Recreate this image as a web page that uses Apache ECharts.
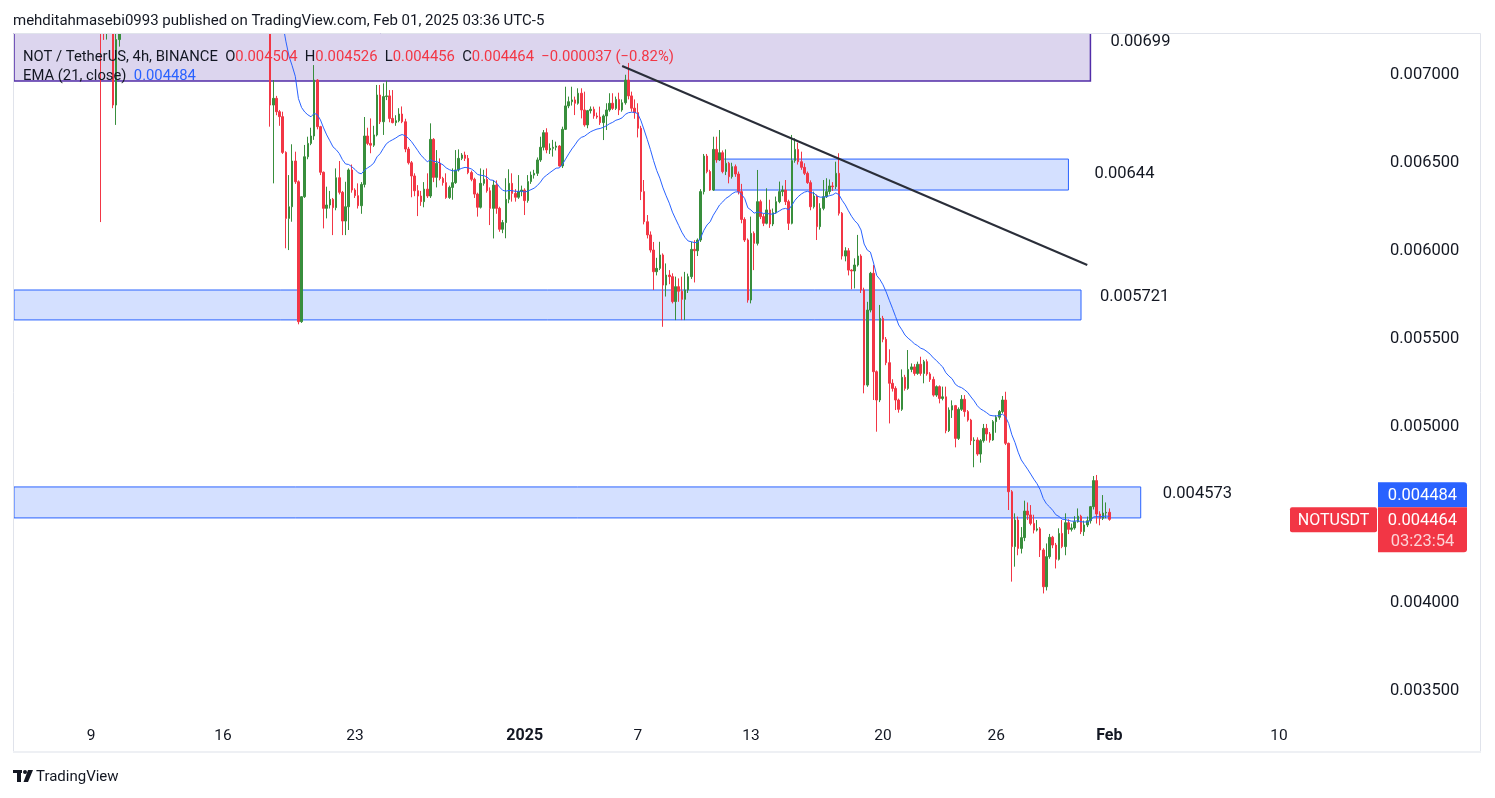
<!DOCTYPE html>
<html><head><meta charset="utf-8">
<script src="https://cdn.jsdelivr.net/npm/echarts@6/dist/echarts.min.js"></script>
<style>html,body{margin:0;padding:0;background:#fff}#c{width:1495px;height:798px}</style>
</head><body><div id="c"></div>
<script>
// ---- DATA (NOT/USDT 4h, BINANCE) ----
const openP = [
0.008900,0.008980,0.009020,0.009080,0.008990,0.008900,0.008950,0.009060,0.009200,0.009150,
0.009000,0.009050,0.009100,0.009250,0.009200,0.009050,0.009100,0.009020,0.008900,0.008950,
0.008880,0.008750,0.008800,0.008720,0.008600,0.008350,0.008200,0.007800,0.007450,0.007350,
0.007400,0.007300,0.006818,0.007190,0.007350,0.007500,0.007450,0.007650,0.007750,0.007700,
0.007780,0.007900,0.007850,0.007750,0.007820,0.007950,0.008050,0.008000,0.007900,0.007950,
0.008080,0.008150,0.008100,0.008000,0.007880,0.007800,0.007850,0.007900,0.007850,0.007750,
0.007800,0.007850,0.007900,0.007780,0.007700,0.007750,0.007800,0.007720,0.007650,0.007700,
0.007620,0.007550,0.007600,0.007650,0.007580,0.007500,0.007550,0.007600,0.007520,0.007450,
0.007500,0.007380,0.006818,0.006856,0.006780,0.006752,0.006549,0.006174,0.006240,0.006500,
0.006382,0.005587,0.006297,0.006524,0.006600,0.006642,0.006960,0.006695,0.006436,0.006231,
0.006250,0.006282,0.006235,0.006405,0.006322,0.006159,0.006240,0.006449,0.006335,0.006303,
0.006246,0.006367,0.006642,0.006600,0.006590,0.006648,0.006875,0.006723,0.006866,0.006870,
0.006742,0.006718,0.006729,0.006767,0.006723,0.006568,0.006490,0.006415,0.006331,0.006301,
0.006269,0.006340,0.006301,0.006623,0.006407,0.006487,0.006401,0.006377,0.006292,0.006350,
0.006377,0.006449,0.006515,0.006534,0.006515,0.006434,0.006396,0.006312,0.006237,0.006373,
0.006396,0.006331,0.006231,0.006363,0.006231,0.006112,0.006150,0.006282,0.006373,0.006316,
0.006294,0.006326,0.006335,0.006275,0.006383,0.006420,0.006430,0.006506,0.006578,0.006661,
0.006563,0.006572,0.006578,0.006585,0.006472,0.006680,0.006813,0.006837,0.006847,0.006828,
0.006885,0.006790,0.006705,0.006786,0.006794,0.006756,0.006750,0.006718,0.006756,0.006790,
0.006828,0.006799,0.006850,0.006790,0.006831,0.006960,0.006870,0.006800,0.006775,0.006686,
0.006326,0.006155,0.006080,0.005994,0.005871,0.005890,0.005966,0.005795,0.005852,0.005843,
0.005701,0.005786,0.005760,0.005714,0.005767,0.005843,0.005998,0.005990,0.006051,0.006326,
0.006528,0.006440,0.006335,0.006566,0.006506,0.006547,0.006440,0.006487,0.006411,0.006468,
0.006426,0.006326,0.006168,0.006051,0.005710,0.006089,0.006032,0.006269,0.006184,0.006146,
0.006222,0.006142,0.006206,0.006269,0.006326,0.006335,0.006269,0.006146,0.006502,0.006566,
0.006496,0.006464,0.006430,0.006377,0.006240,0.006301,0.006127,0.006231,0.006297,0.006326,
0.006358,0.006354,0.006430,0.006203,0.005960,0.005990,0.005880,0.005875,0.005909,0.005960,
0.005767,0.005227,0.005653,0.005862,0.005303,0.005142,0.005606,0.005487,0.005354,0.005237,
0.005208,0.005142,0.005089,0.005271,0.005208,0.005316,0.005330,0.005293,0.005345,0.005293,
0.005360,0.005290,0.005259,0.005170,0.005218,0.005151,0.005160,0.004968,0.005085,0.005110,
0.004924,0.005089,0.005146,0.005076,0.005028,0.004911,0.004915,0.004835,0.004911,0.004981,
0.004949,0.004915,0.005019,0.005044,0.005076,0.005142,0.004896,0.004621,0.004309,0.004460,
0.004299,0.004360,0.004511,0.004489,0.004441,0.004403,0.004410,0.004290,0.004081,0.004252,
0.004362,0.004318,0.004237,0.004384,0.004309,0.004445,0.004407,0.004415,0.004450,0.004482,
0.004394,0.004432,0.004456,0.004536,0.004684,0.004494,0.004470,0.004500,0.004504];
const highP = [
0.009050,0.009100,0.009150,0.009200,0.009050,0.009000,0.009100,0.009250,0.009350,0.009200,
0.009100,0.009150,0.009300,0.009400,0.009250,0.009150,0.009200,0.009100,0.009000,0.009050,
0.008950,0.008850,0.008900,0.008800,0.008700,0.008450,0.008250,0.007900,0.007600,0.007480,
0.007450,0.007350,0.007250,0.007400,0.007550,0.007600,0.007700,0.007800,0.007850,0.007800,
0.007950,0.008000,0.007900,0.007850,0.008000,0.008100,0.008150,0.008050,0.008000,0.008100,
0.008200,0.008250,0.008150,0.008050,0.007950,0.007900,0.007950,0.008000,0.007900,0.007850,
0.007900,0.007950,0.007950,0.007850,0.007800,0.007850,0.007880,0.007800,0.007750,0.007780,
0.007700,0.007650,0.007700,0.007720,0.007650,0.007600,0.007650,0.007680,0.007600,0.007550,
0.007560,0.007400,0.006960,0.006870,0.006790,0.006780,0.006555,0.006420,0.006595,0.006553,
0.006390,0.006300,0.006591,0.006638,0.006689,0.007045,0.006965,0.006700,0.006440,0.006354,
0.006330,0.006290,0.006458,0.006500,0.006330,0.006382,0.006458,0.006480,0.006345,0.006373,
0.006380,0.006750,0.006689,0.006742,0.006700,0.006932,0.006932,0.006941,0.006956,0.006903,
0.006903,0.006760,0.006800,0.006810,0.006740,0.006580,0.006500,0.006430,0.006363,0.006330,
0.006380,0.006430,0.006714,0.006630,0.006562,0.006515,0.006410,0.006430,0.006360,0.006458,
0.006562,0.006566,0.006545,0.006553,0.006534,0.006445,0.006405,0.006320,0.006458,0.006450,
0.006458,0.006350,0.006392,0.006390,0.006240,0.006165,0.006402,0.006453,0.006430,0.006340,
0.006420,0.006360,0.006345,0.006420,0.006440,0.006450,0.006520,0.006638,0.006676,0.006686,
0.006600,0.006620,0.006610,0.006590,0.006695,0.006922,0.006866,0.006922,0.006866,0.006913,
0.006913,0.006894,0.006790,0.006810,0.006809,0.006775,0.006809,0.006765,0.006828,0.006885,
0.006885,0.006866,0.006888,0.006850,0.006990,0.007057,0.006894,0.006850,0.006828,0.006700,
0.006392,0.006193,0.006100,0.006040,0.005950,0.006041,0.005975,0.005918,0.005880,0.005862,
0.005843,0.005833,0.005843,0.005870,0.005860,0.006041,0.006050,0.006060,0.006340,0.006540,
0.006540,0.006450,0.006638,0.006638,0.006676,0.006560,0.006566,0.006495,0.006490,0.006480,
0.006440,0.006370,0.006180,0.006060,0.006184,0.006100,0.006449,0.006280,0.006200,0.006345,
0.006280,0.006230,0.006298,0.006383,0.006360,0.006392,0.006280,0.006648,0.006629,0.006604,
0.006553,0.006487,0.006440,0.006390,0.006326,0.006310,0.006260,0.006392,0.006402,0.006395,
0.006380,0.006496,0.006544,0.006210,0.006010,0.006005,0.005885,0.005947,0.006080,0.005970,
0.005780,0.005700,0.005870,0.005909,0.005310,0.005682,0.005620,0.005500,0.005430,0.005260,
0.005220,0.005150,0.005316,0.005285,0.005426,0.005350,0.005346,0.005360,0.005388,0.005370,
0.005373,0.005300,0.005275,0.005225,0.005225,0.005218,0.005218,0.005100,0.005140,0.005114,
0.005100,0.005170,0.005170,0.005085,0.005035,0.004930,0.004930,0.004920,0.005006,0.005006,
0.004960,0.005028,0.005055,0.005085,0.005165,0.005189,0.004900,0.004630,0.004498,0.004480,
0.004420,0.004570,0.004560,0.004545,0.004490,0.004460,0.004420,0.004300,0.004327,0.004381,
0.004370,0.004330,0.004413,0.004460,0.004498,0.004464,0.004440,0.004482,0.004526,0.004490,
0.004457,0.004480,0.004540,0.004710,0.004716,0.004510,0.004602,0.004560,0.004526];
const lowP = [
0.008800,0.008900,0.008950,0.008950,0.008850,0.008800,0.008900,0.009000,0.009100,0.008950,
0.008900,0.008980,0.009050,0.009150,0.009000,0.008950,0.009000,0.008850,0.008800,0.008850,
0.008700,0.008650,0.008700,0.008550,0.008300,0.008100,0.007700,0.006153,0.007188,0.007190,
0.007260,0.006800,0.006705,0.007150,0.007300,0.007400,0.007420,0.007600,0.007650,0.007600,
0.007750,0.007800,0.007700,0.007680,0.007800,0.007900,0.007950,0.007850,0.007800,0.007900,
0.008000,0.008050,0.007950,0.007850,0.007750,0.007700,0.007780,0.007820,0.007700,0.007650,
0.007720,0.007780,0.007750,0.007650,0.007600,0.007680,0.007700,0.007600,0.007550,0.007600,
0.007500,0.007450,0.007520,0.007550,0.007450,0.007400,0.007480,0.007500,0.007400,0.007350,
0.007320,0.006695,0.006373,0.006760,0.006700,0.006540,0.006004,0.005994,0.006155,0.006370,
0.005572,0.005580,0.006290,0.006510,0.006590,0.006620,0.006680,0.006420,0.006117,0.006174,
0.006230,0.006079,0.006220,0.006310,0.006079,0.006079,0.006108,0.006320,0.006290,0.006230,
0.006200,0.006350,0.006590,0.006544,0.006580,0.006640,0.006710,0.006648,0.006846,0.006720,
0.006714,0.006700,0.006720,0.006715,0.006550,0.006480,0.006294,0.006300,0.006187,0.006245,
0.006237,0.006290,0.006290,0.006380,0.006350,0.006390,0.006360,0.006285,0.006285,0.006280,
0.006370,0.006440,0.006505,0.006500,0.006425,0.006385,0.006290,0.006184,0.006230,0.006360,
0.006320,0.006136,0.006060,0.006200,0.006098,0.006090,0.006061,0.006260,0.006269,0.006269,
0.006285,0.006300,0.006193,0.006263,0.006370,0.006400,0.006415,0.006495,0.006560,0.006544,
0.006540,0.006525,0.006560,0.006468,0.006460,0.006676,0.006800,0.006815,0.006761,0.006820,
0.006742,0.006695,0.006686,0.006770,0.006740,0.006740,0.006705,0.006619,0.006676,0.006780,
0.006790,0.006790,0.006761,0.006780,0.006820,0.006850,0.006780,0.006740,0.006634,0.006278,
0.006140,0.006060,0.005980,0.005767,0.005850,0.005880,0.005558,0.005730,0.005800,0.005691,
0.005596,0.005700,0.005596,0.005596,0.005750,0.005830,0.005810,0.005960,0.006040,0.006310,
0.006430,0.006330,0.006330,0.006490,0.006500,0.006430,0.006420,0.006373,0.006400,0.006410,
0.006310,0.006146,0.006040,0.005695,0.005691,0.005880,0.006020,0.006170,0.006130,0.006140,
0.006120,0.006130,0.006200,0.006260,0.006300,0.006250,0.006108,0.006140,0.006490,0.006480,
0.006450,0.006420,0.006370,0.006220,0.006230,0.006051,0.006110,0.006220,0.006290,0.006310,
0.006330,0.006340,0.006190,0.005940,0.005930,0.005850,0.005771,0.005776,0.005900,0.005750,
0.005180,0.005217,0.005640,0.005142,0.004962,0.005130,0.005470,0.005340,0.005009,0.005190,
0.005085,0.005070,0.005080,0.005195,0.005200,0.005300,0.005280,0.005285,0.005280,0.005237,
0.005280,0.005245,0.005161,0.005160,0.005123,0.005140,0.004953,0.004960,0.005040,0.004873,
0.004915,0.005080,0.005047,0.005019,0.004886,0.004760,0.004825,0.004786,0.004900,0.004911,
0.004900,0.004910,0.004956,0.005030,0.005066,0.004886,0.004517,0.004110,0.004195,0.004260,
0.004270,0.004340,0.004460,0.004430,0.004384,0.004395,0.004250,0.004043,0.004060,0.004240,
0.004300,0.004185,0.004230,0.004300,0.004260,0.004380,0.004395,0.004405,0.004445,0.004380,
0.004370,0.004420,0.004440,0.004520,0.004440,0.004430,0.004460,0.004470,0.004456];
const closeP = [
0.008980,0.009020,0.009080,0.008990,0.008900,0.008950,0.009060,0.009200,0.009150,0.009000,
0.009050,0.009100,0.009250,0.009200,0.009050,0.009100,0.009020,0.008900,0.008950,0.008880,
0.008750,0.008800,0.008720,0.008600,0.008350,0.008200,0.007800,0.007450,0.007350,0.007400,
0.007300,0.006818,0.007190,0.007350,0.007500,0.007450,0.007650,0.007750,0.007700,0.007780,
0.007900,0.007850,0.007750,0.007820,0.007950,0.008050,0.008000,0.007900,0.007950,0.008080,
0.008150,0.008100,0.008000,0.007880,0.007800,0.007850,0.007900,0.007850,0.007750,0.007800,
0.007850,0.007900,0.007780,0.007700,0.007750,0.007800,0.007720,0.007650,0.007700,0.007620,
0.007550,0.007600,0.007650,0.007580,0.007500,0.007550,0.007600,0.007520,0.007450,0.007500,
0.007380,0.006818,0.006856,0.006780,0.006752,0.006549,0.006174,0.006240,0.006500,0.006382,
0.005587,0.006297,0.006524,0.006600,0.006642,0.006960,0.006695,0.006436,0.006231,0.006250,
0.006282,0.006235,0.006405,0.006322,0.006159,0.006240,0.006449,0.006335,0.006303,0.006246,
0.006367,0.006642,0.006600,0.006590,0.006648,0.006875,0.006723,0.006866,0.006870,0.006742,
0.006718,0.006729,0.006767,0.006723,0.006568,0.006490,0.006415,0.006331,0.006301,0.006269,
0.006340,0.006301,0.006623,0.006407,0.006487,0.006401,0.006377,0.006292,0.006350,0.006377,
0.006449,0.006515,0.006534,0.006515,0.006434,0.006396,0.006312,0.006237,0.006373,0.006396,
0.006331,0.006231,0.006363,0.006231,0.006112,0.006150,0.006282,0.006373,0.006316,0.006294,
0.006326,0.006335,0.006275,0.006383,0.006420,0.006430,0.006506,0.006578,0.006661,0.006563,
0.006572,0.006578,0.006585,0.006472,0.006680,0.006813,0.006837,0.006847,0.006828,0.006885,
0.006790,0.006705,0.006786,0.006794,0.006756,0.006750,0.006718,0.006756,0.006790,0.006828,
0.006799,0.006850,0.006790,0.006831,0.006960,0.006870,0.006800,0.006775,0.006686,0.006326,
0.006155,0.006080,0.005994,0.005871,0.005890,0.005966,0.005795,0.005852,0.005843,0.005701,
0.005786,0.005760,0.005714,0.005767,0.005843,0.005998,0.005990,0.006051,0.006326,0.006528,
0.006440,0.006335,0.006566,0.006506,0.006547,0.006440,0.006487,0.006411,0.006468,0.006426,
0.006326,0.006168,0.006051,0.005710,0.006089,0.006032,0.006269,0.006184,0.006146,0.006222,
0.006142,0.006206,0.006269,0.006326,0.006335,0.006269,0.006146,0.006502,0.006566,0.006496,
0.006464,0.006430,0.006377,0.006240,0.006301,0.006127,0.006231,0.006297,0.006326,0.006358,
0.006354,0.006430,0.006203,0.005960,0.005990,0.005880,0.005875,0.005909,0.005960,0.005767,
0.005227,0.005653,0.005862,0.005303,0.005142,0.005606,0.005487,0.005354,0.005237,0.005208,
0.005142,0.005089,0.005271,0.005208,0.005316,0.005330,0.005293,0.005345,0.005293,0.005360,
0.005290,0.005259,0.005170,0.005218,0.005151,0.005160,0.004968,0.005085,0.005110,0.004924,
0.005089,0.005146,0.005076,0.005028,0.004911,0.004915,0.004835,0.004911,0.004981,0.004949,
0.004915,0.005019,0.005044,0.005076,0.005142,0.004896,0.004621,0.004309,0.004460,0.004299,
0.004360,0.004511,0.004489,0.004441,0.004403,0.004410,0.004290,0.004081,0.004252,0.004362,
0.004318,0.004237,0.004384,0.004309,0.004445,0.004407,0.004415,0.004450,0.004482,0.004394,
0.004432,0.004456,0.004536,0.004684,0.004494,0.004470,0.004500,0.004504,0.004464];

// time axis: bar index (4h bars from Dec 5 00:00) -> label
const tickIndex = [24, 66, 108, 162, 198, 234, 276, 312, 348, 402];
const tickText  = ['9', '16', '23', '2025', '7', '13', '20', '26', 'Feb', '10'];
const boldTicks = ['2025', 'Feb'];
const barCount = 434;   // visible slots incl. empty future space

// drawn zones (bar index, price)
const zoneLeft   = [-Infinity, 222, -Infinity, -Infinity];
const zoneRight  = [342, 335, 339, 358];
const zoneTop    = [0.00725, 0.006511, 0.005767, 0.004648];
const zoneBottom = [0.006955, 0.006335, 0.005597, 0.004472];
const zoneText   = ['0.00699', '0.00644', '0.005721', '0.004573'];
// trend line (bar index, price)
const trendFrom = [193, 0.007040];
const trendTo   = [341, 0.005909];

const lastPrice = 0.004464;
const legendOHLC = ['0.004504', '0.004526', '0.004456', '0.004464'];
const legendChange = '\u22120.000037 (\u22120.82%)';
const emaText = '0.004484';
const countdown = '03:23:54';

// ---- STYLE ----
const UP = '#388e3c', DOWN = '#f23645', EMA_C = '#2962ff', TXT = '#131722';
const FONT = 'Roboto, "Noto Sans", sans-serif';
const GRID = {left: 14, right: 117, top: 33, bottom: 82};
const PX_PER_UNIT = 88 / 0.0005;
const Y_MAX = 0.007 + (73 - GRID.top) / PX_PER_UNIT;
const Y_MIN = 0.007 - (798 - GRID.bottom - 73) / PX_PER_UNIT;

// EMA(21, close)
const ema = [];
(function(){ const k = 2 / 22; let e = closeP[0];
  closeP.forEach((c, i) => { e = i === 0 ? c : c * k + e * (1 - k); ema.push(+e.toFixed(7)); }); })();

const cats = [];
for (let i = 0; i < barCount; i++) { const t = tickIndex.indexOf(i); cats.push(t >= 0 ? tickText[t] : ''); }
const ohlc = openP.map((o, i) => [o, closeP[i], lowP[i], highP[i]]);

const purple = {color: 'rgba(81,45,168,0.20)', borderColor: '#512da8', borderWidth: 1.5};
const blue = {color: 'rgba(41,98,255,0.20)', borderColor: '#2962ff', borderWidth: 1};
const areas = zoneLeft.map((l, k) => [
  {xAxis: l, yAxis: zoneTop[k], itemStyle: k === 0 ? purple : blue},
  {xAxis: zoneRight[k], yAxis: zoneBottom[k]}
]);

const chart = echarts.init(document.getElementById('c'));
chart.setOption({
  animation: false,
  backgroundColor: '#fff',
  grid: GRID,
  xAxis: {
    type: 'category', data: cats, boundaryGap: true,
    axisLine: {show: false}, axisTick: {show: false}, splitLine: {show: false},
    axisLabel: {
      interval: (i, v) => v !== '', margin: 12, color: TXT, fontSize: 15.5, fontFamily: FONT,
      formatter: v => boldTicks.includes(v) ? '{b|' + v + '}' : v,
      rich: {b: {fontWeight: 'bold', fontSize: 16, color: TXT, fontFamily: FONT}}
    }
  },
  yAxis: {
    type: 'value', position: 'right', min: Y_MIN, max: Y_MAX, splitNumber: 8,
    axisLine: {show: false}, axisTick: {show: false}, splitLine: {show: false},
    axisLabel: {
      margin: 12, color: TXT, fontSize: 16.5, fontFamily: FONT, showMinLabel: false, showMaxLabel: false,
      formatter: v => Math.abs(v - 0.0045) < 1e-9 ? '' : '{p|' + v.toFixed(6) + '}',
      rich: {p: {fontSize: 16.5, fontFamily: FONT, color: TXT, padding: [3, 0, 0, 0]}}
    }
  },
  series: [{
    type: 'candlestick', data: ohlc, barWidth: 2,
    itemStyle: {color: UP, color0: DOWN, borderColor: UP, borderColor0: DOWN, borderWidth: 1},
    markArea: {silent: true, label: {show: false}, data: areas},
    markLine: {
      silent: true, symbol: ['none', 'none'], label: {show: false},
      data: [
        {yAxis: lastPrice, lineStyle: {color: DOWN, width: 1, type: [1, 2]}},
        [{coord: trendFrom, lineStyle: {color: '#2a2e39', width: 2, type: 'solid'}}, {coord: trendTo}]
      ]
    }
  }, {
    type: 'line', data: ema, symbol: 'none', smooth: false, z: 3,
    lineStyle: {color: EMA_C, width: 1}
  }]
});

// ---- overlays positioned through the chart's own scales ----
const px = (i, p) => chart.convertToPixel({xAxisIndex: 0, yAxisIndex: 0}, [i, p]);
const gr = [];
const right = 1495 - GRID.right;
gr.push({type: 'rect', z: 90, shape: {x: 0, y: 0, width: 1495, height: GRID.top}, style: {fill: '#fff'}});
gr.push({type: 'rect', z: 91, shape: {x: 13.5, y: 33.5, width: 1467, height: 718}, style: {fill: 'none', stroke: '#e0e3eb', lineWidth: 1}});
gr.push({type: 'rect', z: 91, shape: {x: 13, y: 751, width: 1468, height: 2}, style: {fill: '#eef0f4'}});
gr.push({type: 'text', z: 95, x: 13, y: 21, style: {text: 'mehditahmasebi0993 published on TradingView.com, Feb 01, 2025 03:36 UTC-5', fill: TXT, font: '15px ' + FONT, verticalAlign: 'middle'}});
// legend
const LF = '14.8px ' + FONT;
gr.push({type: 'text', z: 95, x: 23, y: 57, style: {
  text: '{d|NOT / TetherUS, 4h, BINANCE}  {d|O}{r|' + legendOHLC[0] + '}  {d|H}{r|' + legendOHLC[1] + '}  {d|L}{r|' + legendOHLC[2] + '}  {d|C}{r|' + legendOHLC[3] + '}  {r|' + legendChange + '}',
  verticalAlign: 'middle', font: LF,
  rich: {d: {fill: TXT, font: LF}, r: {fill: DOWN, font: LF}}}});
gr.push({type: 'text', z: 95, x: 23, y: 76, style: {
  text: '{d|EMA (21, close)}  {b|' + emaText + '}', verticalAlign: 'middle', font: LF,
  rich: {d: {fill: TXT, font: LF}, b: {fill: EMA_C, font: LF}}}});
// zone labels
const labelDx = [20, 26, 19, 22], labelDy = [9, 15, 7, 7];
zoneText.forEach((t, k) => {
  const p = px(zoneRight[k], zoneTop[k]);
  gr.push({type: 'text', z: 95, x: p[0] + labelDx[k], y: Math.max(p[1], GRID.top) + labelDy[k],
    style: {text: t, fill: TXT, font: '16.5px ' + FONT, verticalAlign: 'middle'}});
});
// price tags
const y0 = px(0, lastPrice)[1];
gr.push({type: 'rect', z: 95, shape: {x: 1290, y: y0 - 12, width: 87, height: 25, r: 2}, style: {fill: DOWN}});
gr.push({type: 'text', z: 96, x: 1333.5, y: y0 + 2, style: {text: 'NOTUSDT', fill: '#fff', font: '16px ' + FONT, align: 'center', verticalAlign: 'middle'}});
gr.push({type: 'rect', z: 95, shape: {x: right, y: y0 - 37, width: 89, height: 25, r: [0, 3, 0, 0]}, style: {fill: EMA_C}});
gr.push({type: 'text', z: 96, x: right + 44.5, y: y0 - 23, style: {text: emaText, fill: '#fff', font: '16.5px ' + FONT, align: 'center', verticalAlign: 'middle'}});
gr.push({type: 'rect', z: 95, shape: {x: right, y: y0 - 12, width: 89, height: 45, r: [0, 0, 3, 0]}, style: {fill: DOWN}});
gr.push({type: 'text', z: 96, x: right + 44.5, y: y0 + 2, style: {text: lastPrice.toFixed(6), fill: '#fff', font: '16.5px ' + FONT, align: 'center', verticalAlign: 'middle'}});
gr.push({type: 'text', z: 96, x: right + 44.5, y: y0 + 23, style: {text: countdown, fill: 'rgba(255,255,255,0.78)', font: '16.5px ' + FONT, align: 'center', verticalAlign: 'middle'}});
// TradingView logo
gr.push({type: 'rect', z: 95, shape: {x: 13, y: 770, width: 9, height: 3}, style: {fill: TXT}});
gr.push({type: 'rect', z: 95, shape: {x: 17, y: 770, width: 4, height: 12}, style: {fill: TXT}});
gr.push({type: 'circle', z: 95, shape: {cx: 25, cy: 772, r: 2}, style: {fill: TXT}});
gr.push({type: 'polygon', z: 95, shape: {points: [[28, 770], [33, 770], [28, 782], [23.5, 782]]}, style: {fill: TXT}});
gr.push({type: 'text', z: 95, x: 36, y: 777.5, style: {text: 'TradingView', fill: TXT, font: '15px ' + FONT, verticalAlign: 'middle'}});
chart.setOption({graphic: gr});
</script></body></html>
